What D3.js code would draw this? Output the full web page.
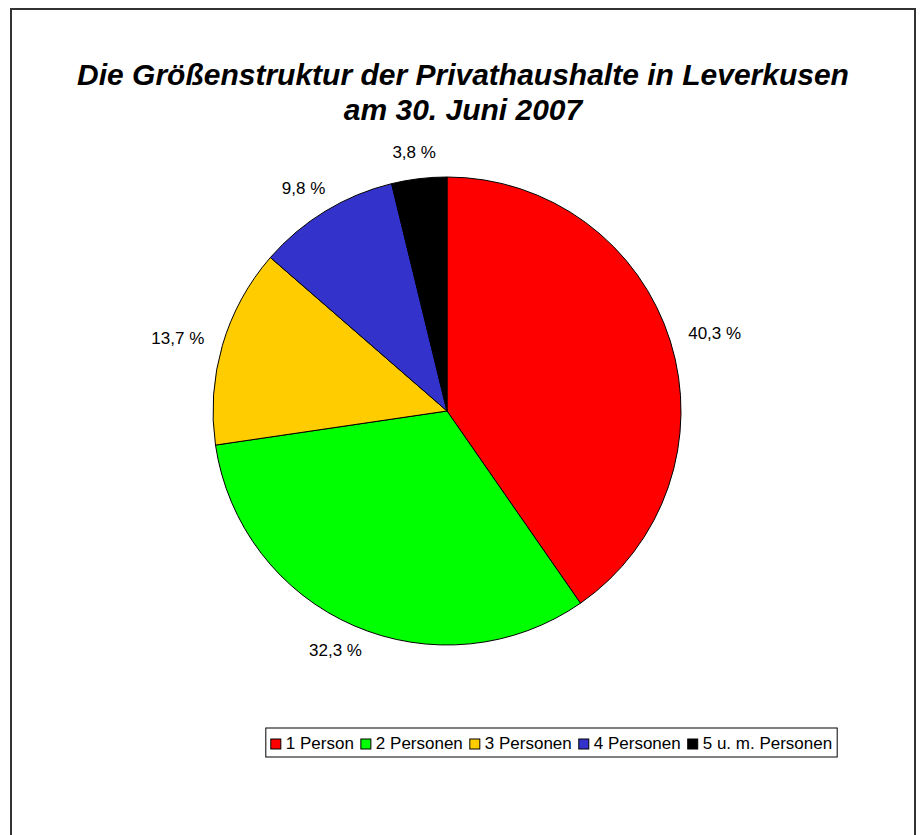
<!DOCTYPE html>
<html>
<head>
<meta charset="utf-8">
<script src="https://cdn.jsdelivr.net/npm/d3@7"></script>
<style>
  body { margin: 0; background: #fff; }
  text { font-family: "Liberation Sans", Arial, sans-serif; fill: #000; }
</style>
</head>
<body>
<div id="chart"></div>
<script>
// Chart data
var categories = ["1 Person", "2 Personen", "3 Personen", "4 Personen", "5 u. m. Personen"];
var shares = [40.3, 32.3, 13.7, 9.8, 3.8];
var labels = ["40,3 %", "32,3 %", "13,7 %", "9,8 %", "3,8 %"];
var colors = ["#ff0000", "#00ff00", "#ffcc00", "#3333cc", "#000000"];
var titleLines = ["Die Größenstruktur der Privathaushalte in Leverkusen", "am 30. Juni 2007"];

var W = 923, H = 835;
var cx = 447, cy = 411, r = 234;

var svg = d3.select("#chart")
  .append("svg")
  .attr("width", W)
  .attr("height", H);

// chart area frame (runs off the bottom)
svg.append("rect")
  .attr("x", 11)
  .attr("y", 9)
  .attr("width", 904)
  .attr("height", 850)
  .attr("fill", "#fff")
  .attr("stroke", "#333")
  .attr("stroke-width", 2);

// Title
svg.append("g")
  .selectAll("text")
  .data(titleLines)
  .enter().append("text")
  .attr("x", 463)
  .attr("y", (d, i) => 85 + i * 35)
  .attr("text-anchor", "middle")
  .style("font-size", "30px")
  .style("font-weight", "bold")
  .style("font-style", "italic")
  .text(d => d);

// Pie
var pie = d3.pie().sort(null).value(d => d);
var arcs = pie(shares);
var arc = d3.arc().innerRadius(0).outerRadius(r);

var g = svg.append("g").attr("transform", `translate(${cx},${cy})`);

g.selectAll("path")
  .data(arcs)
  .enter().append("path")
  .attr("d", arc)
  .attr("fill", (d, i) => colors[i])
  .attr("stroke", "#000")
  .attr("stroke-width", 1);

// Data labels outside the slices
var labelR = r + 20;
g.selectAll(".lbl")
  .data(arcs)
  .enter().append("text")
  .attr("class", "lbl")
  .style("font-size", "17px")
  .text((d, i) => labels[i])
  .each(function(d) {
    var a = (d.startAngle + d.endAngle) / 2;
    var s = Math.sin(a), c = -Math.cos(a);
    var w = this.getComputedTextLength();
    var x = labelR * s + s * w / 2;
    var y = labelR * c + c * 7;
    d3.select(this)
      .attr("x", x)
      .attr("y", y + 6)
      .attr("text-anchor", "middle");
  });

// Legend
var legend = svg.append("g");
var lx = 0, sq = 10, gapAfterSq = 5, gapItem = 7;
var items = legend.selectAll(".item")
  .data(categories)
  .enter().append("g")
  .attr("class", "item");

items.append("rect")
  .attr("width", sq)
  .attr("height", sq)
  .attr("y", -sq)
  .attr("fill", (d, i) => colors[i])
  .attr("stroke", "#000")
  .attr("stroke-width", 1);

items.append("text")
  .attr("x", sq + gapAfterSq)
  .attr("y", 0)
  .style("font-size", "17px")
  .text(d => d);

items.each(function() {
  var t = d3.select(this).select("text").node().getComputedTextLength();
  d3.select(this).attr("transform", `translate(${lx},0)`);
  lx += sq + gapAfterSq + t + gapItem;
});
var legendW = lx - gapItem;
var boxW = legendW + 10;
var boxX = 551.5 - boxW / 2;
legend.attr("transform", `translate(${boxX + 5},749)`);
legend.insert("rect", ":first-child")
  .attr("x", -5)
  .attr("y", -21)
  .attr("width", boxW)
  .attr("height", 29)
  .attr("fill", "#fff")
  .attr("stroke", "#000")
  .attr("stroke-width", 1);
</script>
</body>
</html>
